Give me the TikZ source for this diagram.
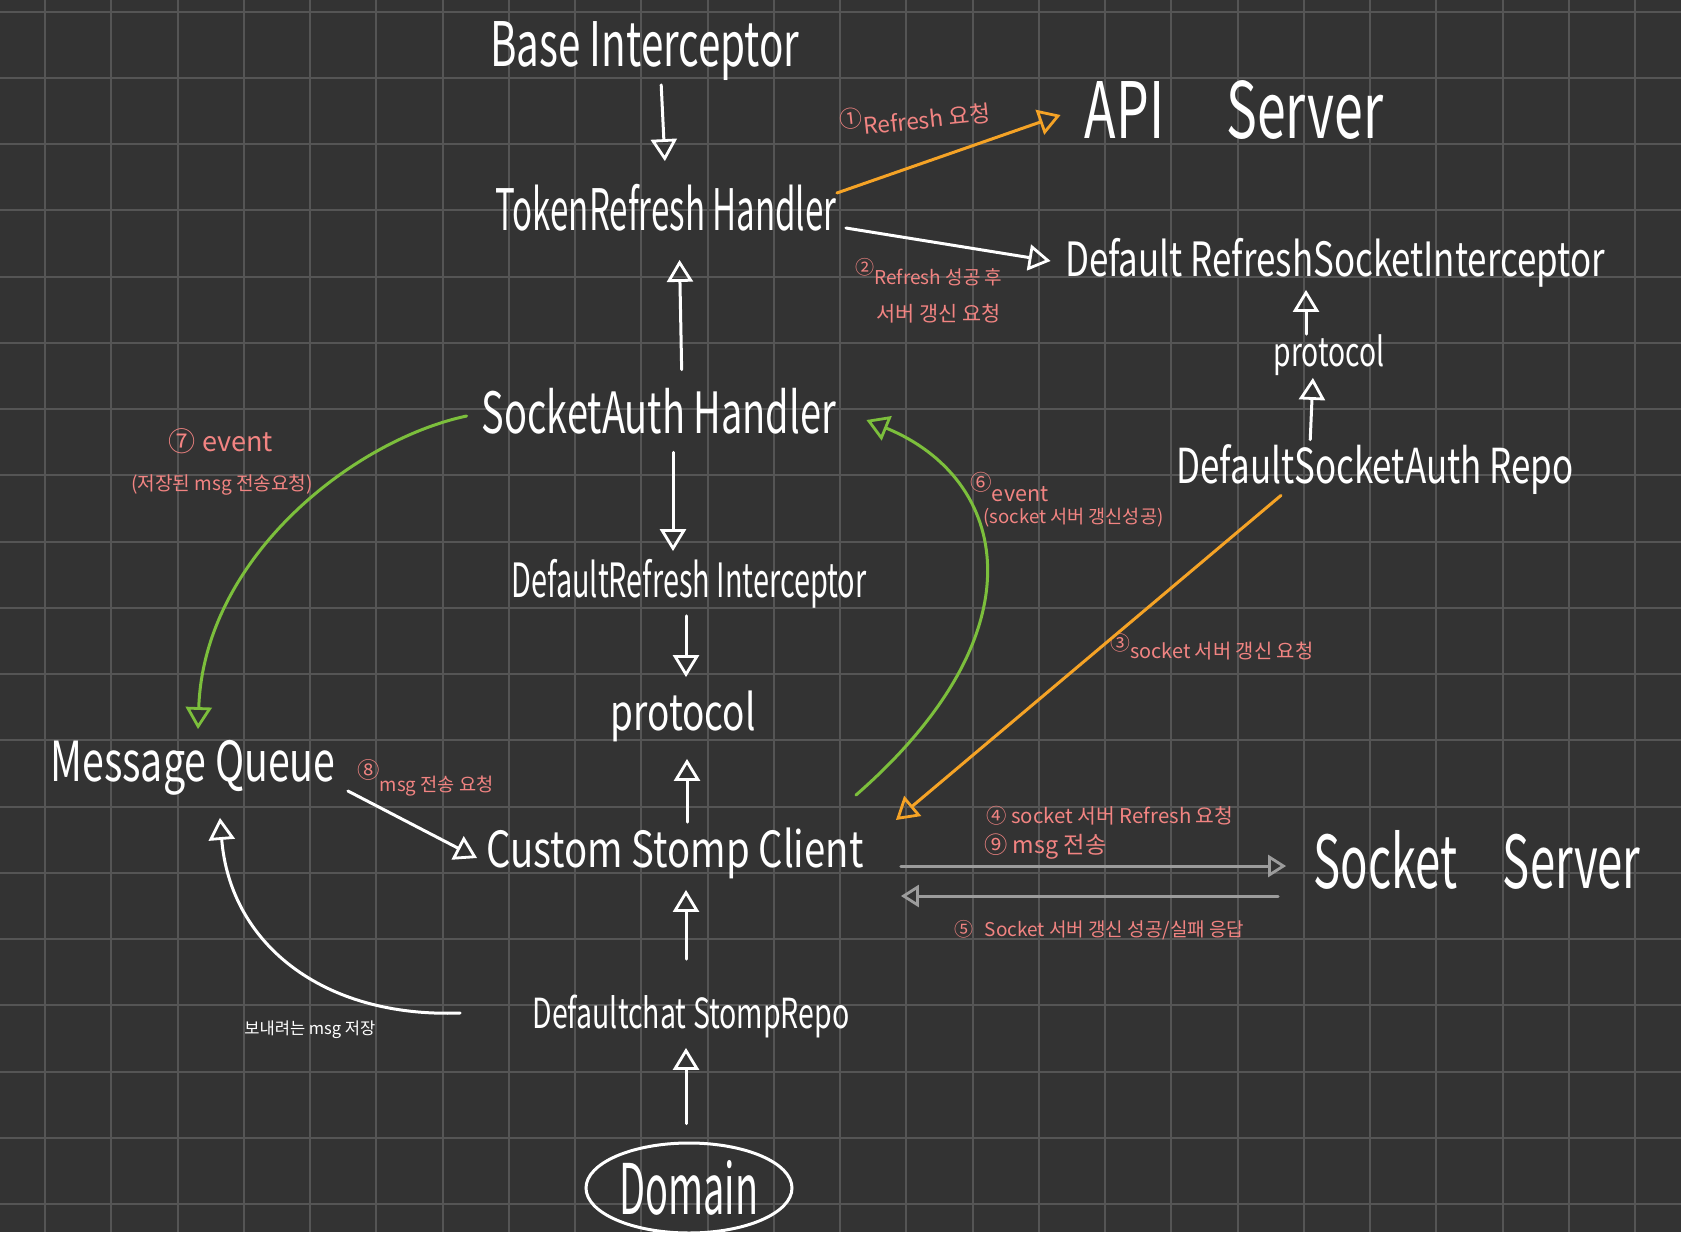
\documentclass[tikz,border=0pt]{standalone}
\usepackage{fontspec}
\setmainfont{Noto Sans CJK KR}
\usetikzlibrary{arrows.meta,shapes.geometric,calc}
\definecolor{bgc}{HTML}{333333}
\definecolor{gridc}{HTML}{555555}
\definecolor{pinkc}{HTML}{F28482}
\definecolor{orangec}{HTML}{F5A326}
\definecolor{greenc}{HTML}{7CBF3C}
\definecolor{grayc}{HTML}{9C9C9C}
\newcommand{\fitbox}[3]{\resizebox*{#1}{#2}{#3}}
\newcommand{\fitw}[2]{\resizebox{#1}{!}{#2}}
\begin{document}
\begin{tikzpicture}[x=0.5pt,y=-0.5pt,
  big/.style={text=white, inner sep=0pt},
  lab/.style={text=pinkc, inner sep=0pt, anchor=west},
  tipo/.style={-{Triangle[open,length=11pt,width=13pt,line width=1.4pt]}},
  wline/.style={draw=white, line width=1.5pt, line cap=round, tipo},
  oline/.style={draw=orangec, line width=1.5pt, line cap=round, tipo},
  gline/.style={draw=greenc, line width=1.5pt, line cap=round, tipo},
  grline/.style={draw=grayc, line width=1.5pt, line cap=round, -{Triangle[open,length=9pt,width=11pt,line width=1.4pt]}}]
\useasboundingbox (0,0) rectangle (1681,1232);
\fill[bgc] (0,0) rectangle (1681,1232);
\foreach \k in {-1,...,24} \draw[gridc, line width=1pt] ({45+66.25*\k},0) -- ({45+66.25*\k},1232);
\foreach \k in {0,...,18} \draw[gridc, line width=1pt] (0,{11.7+66.25*\k}) -- (1681,{11.7+66.25*\k});

% main nodes
\node[big] (base) at (645,51) {\fitbox{154.5pt}{29.5pt}{Base Interceptor}};
\node[big] (token) at (666,208) {\fitbox{170.5pt}{23.5pt}{TokenRefresh Handler}};
\node[big] (api) at (1234,110) {\fitbox{149pt}{29.5pt}{API\hspace{1.2em}Server}};
\node[big] (drsi) at (1335,263) {\fitbox{270pt}{24.5pt}{Default RefreshSocketInterceptor}};
\node[big] (protoR) at (1329,355) {\fitbox{55.5pt}{20.5pt}{protocol}};
\node[big] (sah) at (659,411) {\fitbox{177pt}{23pt}{SocketAuth Handler}};
\node[big] (dsar) at (1375,470) {\fitbox{198.5pt}{25pt}{DefaultSocketAuth Repo}};
\node[big] (dri) at (689,584) {\fitbox{177.5pt}{24.5pt}{DefaultRefresh Interceptor}};
\node[big] (protoM) at (683,716) {\fitbox{72.5pt}{25.5pt}{protocol}};
\node[big] (mq) at (193,768) {\fitbox{142.5pt}{27.5pt}{Message Queue}};
\node[big] (csc) at (675,853) {\fitbox{188.5pt}{25.5pt}{Custom Stomp Client}};
\node[big] (ss) at (1477,860) {\fitbox{163.5pt}{29.5pt}{Socket\hspace{1em}Server}};
\node[big] (dcsr) at (691,1016) {\fitbox{158.5pt}{21.5pt}{Defaultchat StompRepo}};
\node[big, draw=white, line width=1.5pt, ellipse, minimum width=103pt, minimum height=45pt] (domain) at (689,1188) {\fitbox{69.5pt}{27.5pt}{Domain}};

% labels
\node[lab, rotate=6] (l1) at (840,124) {\fitw{75pt}{\raisebox{4pt}{①}Refresh 요청}};
\node[lab] (l2a) at (855,272) {\fitw{73.5pt}{\raisebox{5pt}{②}Refresh 성공 후}};
\node[lab] (l2b) at (876,314) {\fitw{62pt}{서버 갱신 요청}};
\node[lab, anchor=center] (l7a) at (221,441) {\fitw{52pt}{⑦ event}};
\node[lab, anchor=center] (l7b) at (222,485) {\fitw{91pt}{(저장된 msg 전송요청)}};
\node[lab] (l6a) at (970,487) {\fitw{39pt}{\raisebox{5pt}{⑥}event}};
\node[lab] (l6b) at (983,518) {\fitw{90pt}{(socket 서버 갱신성공)}};
\node[lab] (l3) at (1110,647) {\fitw{101.5pt}{\raisebox{4pt}{③}socket 서버 갱신 요청}};
\node[lab] (l8) at (357,778) {\fitw{68pt}{\raisebox{7pt}{\large ⑧}msg 전송 요청}};
\node[lab] (l4) at (986,816) {\fitw{123.5pt}{④ socket 서버 Refresh 요청}};
\node[lab] (l9) at (984,847) {\fitw{61pt}{⑨ msg 전송}};
\node[lab] (l5) at (954,930) {\fitw{145pt}{⑤\hspace{0.6em}Socket 서버 갱신 성공/실패 응답}};
\node[lab, text=white] (lw) at (244,1030) {\fitw{65.5pt}{보내려는 msg 저장}};

% vertical white arrows
\draw[wline, shorten <=2pt, shorten >=11.5pt] ([xshift=8pt]base.south) -- (token.north);
\draw[wline, shorten <=9pt, shorten >=14pt] ([xshift=11.5pt]sah.north) -- ([xshift=6.5pt]token.south);
\draw[wline, shorten <=9pt, shorten >=4pt] ([xshift=7pt]sah.south) -- ([xshift=-8pt]dri.north);
\draw[wline, shorten <=3.5pt, shorten >=6.5pt] ([xshift=-1.5pt]dri.south) -- ([xshift=1.5pt]protoM.north);
\draw[wline, shorten <=2.5pt, shorten >=8.5pt] ([xshift=6pt]csc.north) -- ([xshift=2pt]protoM.south);
\draw[wline, shorten <=17.5pt, shorten >=5.5pt] ([xshift=-2.5pt]dcsr.north) -- ([xshift=5.5pt]csc.south);
\draw[wline, shorten <=9pt, shorten >=5pt] ([xshift=-1.5pt]domain.north) -- ([xshift=-2.5pt]dcsr.south);
\draw[wline, shorten >=1pt] ([xshift=-11.5pt]protoR.north) -- ([xshift=-14.5pt]drsi.south);
\draw[wline, shorten <=2.5pt, shorten >=1pt] ([xshift=-32.5pt]dsar.north) -- ([xshift=-8pt]protoR.south);

% diagonal arrows
\draw[oline] ([yshift=7.5pt]token.east) -- ([xshift=-12pt,yshift=-2.5pt]api.west);
\draw[wline] ([xshift=4.5pt,yshift=-10pt]token.east) -- ([xshift=-7pt,yshift=1pt]drsi.west);
\draw[oline] ([xshift=-47pt]dsar.south) -- ([xshift=16pt,yshift=16.5pt]csc.east);
\draw[wline] ([xshift=6pt,yshift=-11.5pt]mq.east) -- ([xshift=-4.5pt,yshift=-2.5pt]csc.west);

% curves
\draw[gline] ([xshift=-7.5pt,yshift=-2.5pt]sah.west) .. controls (354,440) and (204,557) .. ([xshift=2.5pt,yshift=5.5pt]mq.north);
\draw[gline] ([xshift=-4pt,yshift=16pt]csc.north east) .. controls (1045,630) and (1008,478) .. ([xshift=15pt,yshift=-4.5pt]sah.east);
\draw[wline] ([xshift=-36pt,yshift=1.5pt]dcsr.west) .. controls (322,1018) and (230,943) .. ([xshift=13.5pt,yshift=-11pt]mq.south);

% gray arrows
\draw[grline] ([xshift=18.5pt,yshift=-6.5pt]csc.east) -- ([xshift=-13.5pt,yshift=-3pt]ss.west);
\draw[grline] ([xshift=-17.5pt,yshift=-18pt]ss.west) -- ([xshift=18.5pt,yshift=-21.5pt]csc.east);
\end{tikzpicture}
\end{document}
